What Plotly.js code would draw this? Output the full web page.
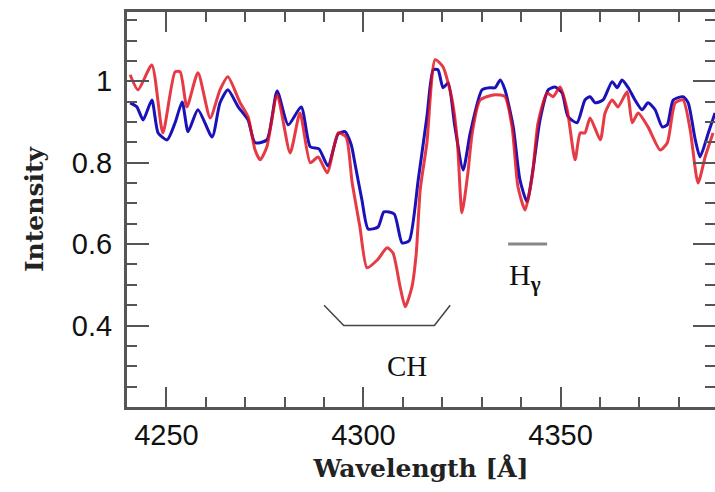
<!DOCTYPE html>
<html>
<head>
<meta charset="utf-8">
<script src="https://cdn.plot.ly/plotly-3.0.1.min.js"></script>
<style>html,body{margin:0;padding:0;background:#fff;}#chart{width:715px;height:492px;}</style>
</head>
<body>
<div id="chart"></div>
<script>
// Red spectrum (wavelength in Angstrom, intensity)
const redWave = [4240.8,4242.8,4246.3,4249.1,4252.2,4253.5,4255.2,4258.0,4261.1,4263.6,4265.6,4268.7,4270.7,4272.5,4273.8,4275.5,4278.1,4281.4,4283.9,4286.5,4288.5,4290.8,4293.6,4295.6,4297.1,4299.1,4300.9,4303.5,4306.0,4307.5,4309.3,4310.6,4312.3,4313.4,4314.4,4316.1,4318.2,4320.2,4322.5,4323.8,4325.0,4326.5,4327.6,4329.6,4333.4,4335.9,4337.7,4339.2,4341.0,4342.8,4344.3,4346.6,4348.1,4349.9,4351.7,4353.7,4355.0,4356.2,4357.5,4360.1,4361.3,4363.1,4364.6,4366.9,4368.2,4369.7,4372.2,4375.3,4377.1,4379.1,4381.1,4382.9,4384.9,4386.7,4388.7];
const redFlux = [1.016,0.979,1.040,0.873,1.023,1.023,0.937,1.021,0.910,0.979,1.011,0.947,0.913,0.831,0.807,0.839,0.967,0.824,0.922,0.800,0.814,0.775,0.873,0.863,0.753,0.642,0.542,0.561,0.591,0.578,0.495,0.446,0.495,0.578,0.733,0.849,1.053,1.035,0.954,0.856,0.677,0.775,0.873,0.954,0.967,0.962,0.888,0.741,0.684,0.765,0.898,0.971,0.962,0.986,0.930,0.807,0.873,0.873,0.910,0.856,0.922,0.954,0.937,0.974,0.898,0.922,0.888,0.831,0.849,0.947,0.954,0.881,0.750,0.814,0.873];
// Blue spectrum
const blueWave = [4240.8,4242.5,4244.1,4246.3,4247.9,4250.2,4252.2,4254.0,4255.5,4258.0,4261.6,4263.6,4265.6,4268.2,4270.7,4272.5,4275.5,4278.1,4280.9,4284.2,4286.5,4288.7,4291.0,4293.6,4295.3,4296.9,4297.9,4299.6,4301.2,4303.7,4305.2,4307.8,4309.8,4311.6,4313.9,4316.1,4317.7,4318.9,4320.2,4321.5,4323.2,4325.3,4327.1,4330.1,4332.1,4333.4,4334.7,4335.9,4338.0,4339.7,4341.5,4343.0,4344.8,4346.9,4348.6,4350.4,4351.9,4354.2,4356.2,4357.5,4358.8,4360.8,4363.1,4364.4,4365.6,4367.2,4368.9,4370.7,4372.2,4374.0,4375.8,4377.1,4378.6,4381.1,4382.4,4384.2,4385.4,4387.5,4389.2];
const blueFlux = [0.947,0.937,0.905,0.954,0.873,0.856,0.898,0.949,0.876,0.930,0.863,0.947,0.979,0.937,0.905,0.849,0.856,0.976,0.893,0.937,0.839,0.834,0.792,0.871,0.876,0.844,0.795,0.709,0.637,0.642,0.679,0.674,0.603,0.608,0.758,0.913,1.028,1.028,0.984,0.996,0.888,0.782,0.873,0.979,0.984,0.984,1.003,0.979,0.888,0.758,0.704,0.782,0.905,0.979,0.986,0.971,0.913,0.898,0.954,0.962,0.947,0.954,0.999,0.984,1.003,0.984,0.954,0.930,0.947,0.930,0.888,0.893,0.954,0.962,0.947,0.856,0.814,0.873,0.922];
// Feature markers
const chBracketX = [4290, 4295, 4318, 4322];
const chBracketY = [0.45, 0.40, 0.40, 0.45];
const hgBarX = [4336.7, 4346.6];
const hgBarY = [0.6, 0.6];
// Tick labels
const yTickVals = [0.4, 0.6, 0.8, 1];
const yTickText = ['0.4', '0.6', '0.8', '1'];
const xTickVals = [4250, 4300, 4350];
const xTickText = ['4250', '4300', '4350'];

const traces = [
  {x: blueWave, y: blueFlux, mode: 'lines', line: {color: '#1a12b8', width: 3, shape: 'spline', smoothing: 0.6}, hoverinfo: 'skip'},
  {x: redWave, y: redFlux, mode: 'lines', line: {color: 'rgba(225,15,28,0.82)', width: 3, shape: 'spline', smoothing: 0.6}, hoverinfo: 'skip'},
  {x: chBracketX, y: chBracketY, mode: 'lines', line: {color: '#444', width: 1.5}, hoverinfo: 'skip'},
  {x: hgBarX, y: hgBarY, mode: 'lines', line: {color: '#888', width: 3}, hoverinfo: 'skip'}
];

const axisCommon = {
  showline: true, linecolor: '#555', linewidth: 3, mirror: 'ticks',
  ticks: 'inside', tickcolor: '#555', tickwidth: 2,
  showgrid: false, zeroline: false,
  tickfont: {family: 'Liberation Sans, Arial, sans-serif', size: 29, color: '#111'}
};

const layout = {
  width: 715, height: 492,
  margin: {l: 127, r: 0, t: 12, b: 85},
  paper_bgcolor: '#fff', plot_bgcolor: '#fff',
  showlegend: false,
  xaxis: Object.assign({}, axisCommon, {
    range: [4240, 4389.2], tickmode: 'array', tickvals: xTickVals, ticktext: xTickText, ticklen: 20,
    minor: {dtick: 10, tick0: 4250, ticks: 'inside', ticklen: 10, tickcolor: '#555', tickwidth: 2, showgrid: false},
    title: {text: 'Wavelength [Å]', standoff: 10, font: {family: 'DejaVu Serif, serif', size: 25, color: '#222', weight: 'bold'}}
  }),
  yaxis: Object.assign({}, axisCommon, {
    range: [0.2, 1.17], tickmode: 'array', tickvals: yTickVals, ticktext: yTickText, ticklen: 22,
    minor: {dtick: 0.05, tick0: 0, ticks: 'inside', ticklen: 10, tickcolor: '#555', tickwidth: 2, showgrid: false},
    ticklabelstandoff: 6,
    title: {text: 'Intensity', standoff: 22, font: {family: 'DejaVu Serif, serif', size: 25, color: '#222', weight: 'bold'}}
  }),
  annotations: [
    {x: 4311, y: 0.30, xref: 'x', yref: 'y', text: 'CH', showarrow: false,
     font: {family: 'Liberation Serif, Times New Roman, serif', size: 29, color: '#111'}},
    {x: 4341, y: 0.52, xref: 'x', yref: 'y', text: 'H<sub><b>γ</b></sub>', showarrow: false,
     font: {family: 'Liberation Serif, Times New Roman, serif', size: 30, color: '#111'}}
  ]
};

Plotly.newPlot('chart', traces, layout, {displayModeBar: false, staticPlot: true});
</script>
</body>
</html>
